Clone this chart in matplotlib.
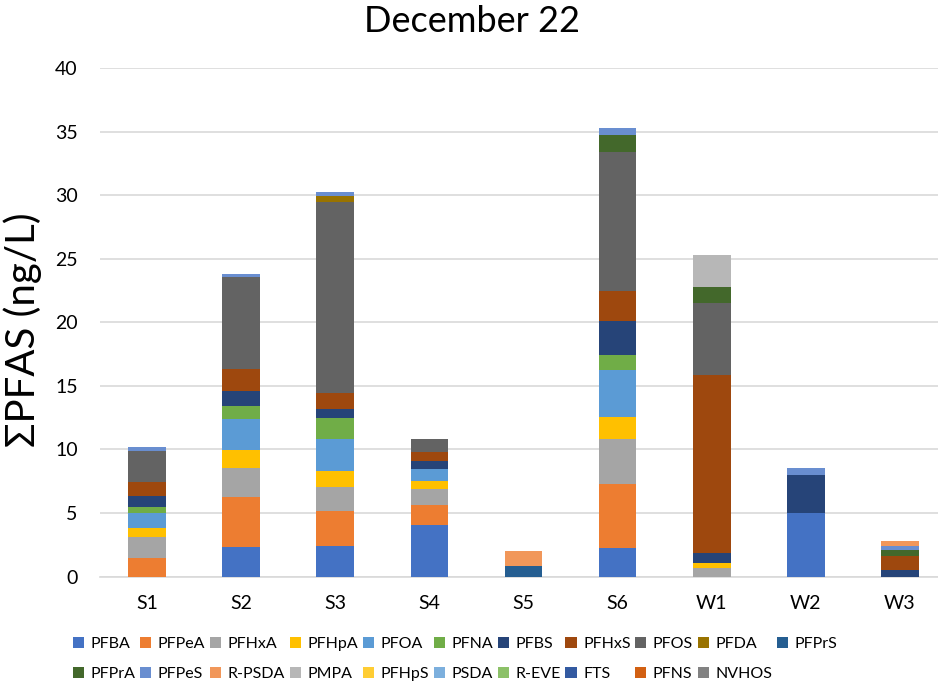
import matplotlib
matplotlib.use("Agg")
import matplotlib.pyplot as plt
import numpy as np

plt.rcParams['font.family'] = ['Lato', 'DejaVu Sans']

sites = ["S1", "S2", "S3", "S4", "S5", "S6", "W1", "W2", "W3"]

# Concentrations (ng/L) per compound, one value per site
PFBA   = [0.00, 2.30, 2.36, 4.03, 0.00, 2.22, 0.00, 4.97, 0.00]
PFPeA  = [1.49, 3.98, 2.80, 1.60, 0.00, 5.06, 0.00, 0.00, 0.00]
PFHxA  = [1.59, 2.28, 1.91, 1.24, 0.00, 3.53, 0.70, 0.00, 0.00]
PFHpA  = [0.74, 1.42, 1.23, 0.63, 0.00, 1.77, 0.34, 0.00, 0.00]
PFOA   = [1.18, 2.42, 2.49, 0.92, 0.00, 3.69, 0.00, 0.00, 0.00]
PFNA   = [0.47, 0.98, 1.64, 0.00, 0.00, 1.12, 0.00, 0.00, 0.00]
PFBS   = [0.89, 1.22, 0.71, 0.63, 0.00, 2.74, 0.79, 2.99, 0.53]
PFHxS  = [1.08, 1.70, 1.33, 0.71, 0.00, 2.32, 14.02, 0.00, 1.06]
PFOS   = [2.46, 7.24, 15.00, 1.06, 0.00, 10.97, 5.64, 0.00, 0.00]
PFDA   = [0.00, 0.00, 0.45, 0.00, 0.00, 0.00, 0.00, 0.00, 0.00]
PFPrS  = [0.00, 0.00, 0.00, 0.00, 0.82, 0.00, 0.00, 0.00, 0.00]
PFPrA  = [0.00, 0.00, 0.00, 0.00, 0.00, 1.33, 1.30, 0.00, 0.47]
PFPeS  = [0.26, 0.24, 0.29, 0.00, 0.00, 0.50, 0.00, 0.58, 0.37]
R_PSDA = [0.00, 0.00, 0.00, 0.00, 1.18, 0.00, 0.00, 0.00, 0.40]
PMPA   = [0.00, 0.00, 0.00, 0.00, 0.00, 0.00, 2.48, 0.00, 0.00]
PFHpS  = [0.00] * 9
PSDA   = [0.00] * 9
R_EVE  = [0.00] * 9
FTS    = [0.00] * 9
PFNS   = [0.00] * 9
NVHOS  = [0.00] * 9

compounds = ["PFBA", "PFPeA", "PFHxA", "PFHpA", "PFOA", "PFNA", "PFBS", "PFHxS",
             "PFOS", "PFDA", "PFPrS", "PFPrA", "PFPeS", "R-PSDA", "PMPA", "PFHpS",
             "PSDA", "R-EVE", "FTS", "PFNS", "NVHOS"]
series = [PFBA, PFPeA, PFHxA, PFHpA, PFOA, PFNA, PFBS, PFHxS, PFOS, PFDA, PFPrS,
          PFPrA, PFPeS, R_PSDA, PMPA, PFHpS, PSDA, R_EVE, FTS, PFNS, NVHOS]

colors = ["#4472C4", "#ED7D31", "#A5A5A5", "#FFC000", "#5B9BD5", "#70AD47",
          "#264478", "#9E480E", "#636363", "#997300", "#255E91", "#43682B",
          "#698ED0", "#F1975A", "#B7B7B7", "#FFCD33", "#7CAFDD", "#8CC168",
          "#335AA1", "#D26012", "#828282"]

fig = plt.figure(figsize=(9.38, 6.82), dpi=100)
ax = fig.add_axes([100 / 938, 105.5 / 682, 847 / 938, 508.5 / 682])

x = np.arange(len(sites))
bottom = np.zeros(len(sites))
handles = []
for name, vals, col in zip(compounds, series, colors):
    vals = np.asarray(vals, dtype=float)
    h = ax.bar(x, vals, width=0.40, bottom=bottom, color=col, label=name,
               linewidth=0, zorder=3)
    handles.append(h)
    bottom += vals

ax.set_ylim(0, 40)
ax.set_xlim(-0.5, len(sites) - 0.5)
ax.set_yticks(np.arange(0, 41, 5))
ax.set_xticks(x)
ax.set_xticklabels(sites)
ax.yaxis.grid(True, color="#D9D9D9", linewidth=1.2, zorder=0)
ax.set_axisbelow(True)
for s in ["top", "right", "left"]:
    ax.spines[s].set_visible(False)
ax.spines["bottom"].set_color("#D9D9D9")
ax.spines["bottom"].set_linewidth(1.2)
ax.tick_params(axis="both", length=0, labelsize=14, colors="#000000")
ax.tick_params(axis="x", pad=13)
ax.tick_params(axis="y", pad=16)

ax.set_ylabel("ΣPFAS (ng/L)", fontsize=29, labelpad=10)
ax.yaxis.set_label_coords(-0.068, 0.485)
fig.text(472 / 938, 1 - 22 / 682, "December 22", fontsize=26,
         ha="center", va="center")

# Legend laid out row by row: 11 entries in the first row, 10 in the second
ncol = 11
order = []
for j in range(ncol - 1):
    order += [j, ncol + j]
order.append(ncol - 1)
fig.legend([handles[i] for i in order], [compounds[i] for i in order],
           loc="center", bbox_to_anchor=(455 / 938, 1 - 659 / 682),
           ncol=ncol, frameon=False, fontsize=11.5, handlelength=0.7,
           handleheight=0.7, handletextpad=0.4, columnspacing=0.3,
           labelspacing=0.95)

fig.savefig("out.png", dpi=100)
